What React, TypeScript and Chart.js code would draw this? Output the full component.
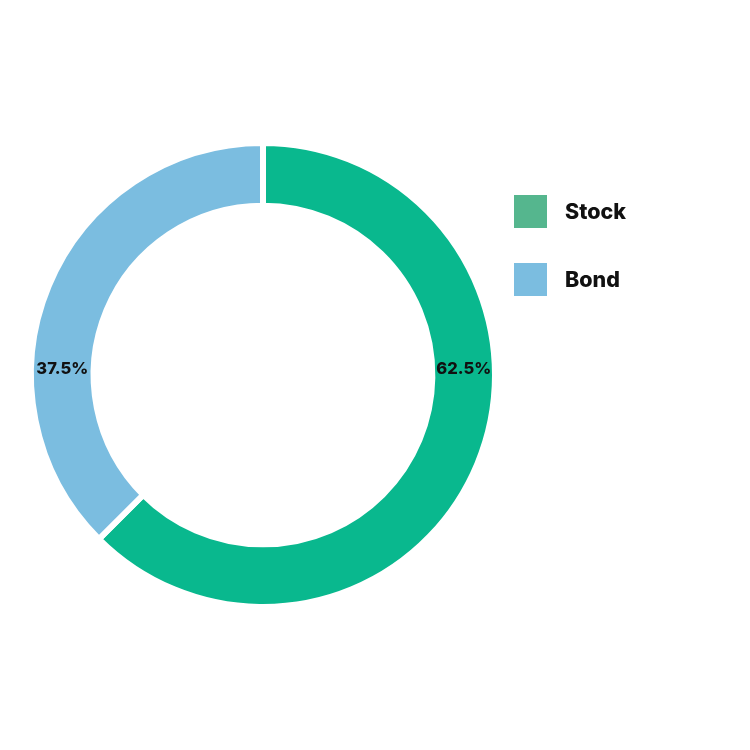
import React, { useEffect, useRef } from "react";
import { Chart, registerables } from "chart.js";

Chart.register(...registerables);

const categories = ["Stock", "Bond"];
const values = [62.5, 37.5];
const sliceColors = ["#09b88e", "#7bbde0"];
const legendColors = ["#55b68e", "#7bbde0"];

const FONT = "Inter, 'Noto Sans', sans-serif";

export default function App() {
  const ref = useRef<HTMLCanvasElement | null>(null);

  useEffect(() => {
    if (!ref.current) return;

    const labelPlugin = {
      id: "sliceLabels",
      afterDatasetsDraw(chart: any) {
        const ctx = chart.ctx;
        const meta = chart.getDatasetMeta(0);
        const data = chart.data.datasets[0].data as number[];
        const total = data.reduce((a, b) => a + b, 0);
        ctx.save();
        ctx.font = `800 16.5px ${FONT}`;
        ctx.fillStyle = "#111111";
        ctx.textAlign = "center";
        ctx.textBaseline = "alphabetic";
        meta.data.forEach((arc: any, i: number) => {
          const p = arc.getProps(["x", "y", "startAngle", "endAngle", "innerRadius", "outerRadius"], true);
          const mid = (p.startAngle + p.endAngle) / 2;
          const side = Math.cos(mid) >= 0 ? 1 : -1;
          const r = (p.innerRadius + p.outerRadius) / 2;
          const txt = ((data[i] / total) * 100).toFixed(1) + "%";
          ctx.fillText(txt, p.x + side * r, p.y - 1);
        });
        ctx.restore();
      },
    };

    const legendPlugin = {
      id: "customLegend",
      afterDraw(chart: any) {
        const ctx = chart.ctx;
        const x0 = 514;
        const y0 = 195;
        const box = 33;
        const step = 68;
        ctx.save();
        ctx.font = `800 21.5px ${FONT}`;
        ctx.textBaseline = "middle";
        ctx.textAlign = "left";
        categories.forEach((c, i) => {
          const y = y0 + i * step;
          ctx.fillStyle = legendColors[i];
          ctx.fillRect(x0, y, box, box);
          ctx.fillStyle = "#111111";
          ctx.fillText(c, x0 + box + 18, y + box / 2 + 1);
        });
        ctx.restore();
      },
    };

    const chart = new Chart(ref.current, {
      type: "doughnut",
      data: {
        labels: categories,
        datasets: [
          {
            data: values,
            backgroundColor: sliceColors,
            borderColor: "#ffffff",
            borderWidth: 6,
            borderJoinStyle: "miter",
            hoverOffset: 0,
          },
        ],
      },
      options: {
        responsive: false,
        animation: false,
        cutout: "73%",
        layout: { padding: { left: 28, right: 252, top: 140, bottom: 140 } },
        plugins: {
          legend: { display: false },
          tooltip: { enabled: false },
        },
      },
      plugins: [labelPlugin, legendPlugin],
    });

    return () => chart.destroy();
  }, []);

  return (
    <div style={{ position: "fixed", left: 0, top: 0, width: 750, height: 750, background: "#ffffff" }}>
      <canvas ref={ref} width={750} height={750} style={{ width: 750, height: 750, display: "block" }} />
    </div>
  );
}
